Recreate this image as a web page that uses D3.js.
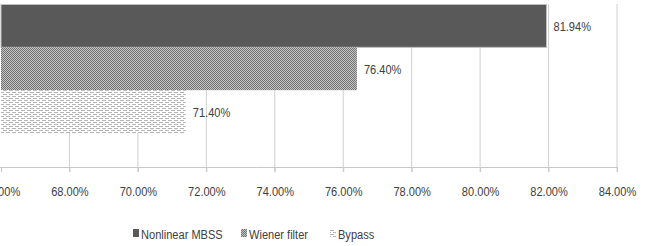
<!DOCTYPE html>
<html lang="en">
<head>
<meta charset="UTF-8">
<title>Nonlinear MBSS vs Wiener filter vs Bypass</title>
<script src="https://d3js.org/d3.v7.min.js"></script>
<style>
    body { margin: 0; background: #fff; }
    text { font-family: "Liberation Sans", Arial, sans-serif; fill: #404040; }
</style>
</head>
<body>
<svg width="645" height="246"></svg>
<script>
    const series = ["Nonlinear MBSS", "Wiener filter", "Bypass"];
    const values = [81.94, 76.40, 71.40];
    const xTicks = [66, 68, 70, 72, 74, 76, 78, 80, 82, 84];

    const svg = d3.select("svg");
    const defs = svg.append("defs");
    const squeeze = "scale(0.82,1)"; // narrow look like the original Calibri labels
    const fontSize = "13.5px";

    // wiener: fine checker pattern
    const pw = defs.append("pattern").attr("id", "pat-wiener")
        .attr("patternUnits", "userSpaceOnUse").attr("width", 2).attr("height", 2);
    pw.append("rect").attr("width", 2).attr("height", 2).attr("fill", "#c4c4c4");
    pw.append("rect").attr("width", 1).attr("height", 1).attr("fill", "#727272");
    pw.append("rect").attr("x", 1).attr("y", 1).attr("width", 1).attr("height", 1).attr("fill", "#727272");

    // bypass: rows of short dashes
    const pb = defs.append("pattern").attr("id", "pat-bypass")
        .attr("patternUnits", "userSpaceOnUse").attr("width", 6).attr("height", 4);
    pb.append("rect").attr("width", 6).attr("height", 4).attr("fill", "#fff");
    pb.append("rect").attr("x", 0).attr("y", 0).attr("width", 4).attr("height", 1).attr("fill", "#b4b4b4");
    pb.append("rect").attr("x", 3).attr("y", 2).attr("width", 4).attr("height", 1).attr("fill", "#b4b4b4");
    pb.append("rect").attr("x", -3).attr("y", 2).attr("width", 4).attr("height", 1).attr("fill", "#b4b4b4");

    const fills = ["#595959", "url(#pat-wiener)", "url(#pat-bypass)"];

    const x = d3.scaleLinear().domain([66, 84]).range([1, 617]);
    const y = d3.scaleBand().domain(series).range([4.5, 133]).paddingInner(0);
    const axisY = 167;

    const g = svg.append("g");

    // gridlines
    g.selectAll(".grid").data(xTicks.slice(1)).join("line")
        .attr("class", "grid")
        .attr("x1", d => x(d)).attr("x2", d => x(d))
        .attr("y1", 4).attr("y2", axisY + 5)
        .attr("stroke", "#d0d0d0").attr("stroke-width", 1);

    // axis
    const axis = d3.axisBottom(x).tickValues(xTicks)
        .tickFormat(d => d.toFixed(2) + "%").tickSize(5).tickPadding(14);
    const ax = g.append("g").attr("transform", `translate(0,${axisY})`).call(axis);
    ax.select(".domain").attr("stroke", "#c8c8c8").attr("d", `M0,0.5H${x(84)}`);
    ax.selectAll(".tick line").attr("stroke", "#c8c8c8");
    ax.selectAll(".tick text").style("font-size", fontSize).attr("fill", "#404040")
        .attr("transform", squeeze);

    // bars
    g.selectAll(".bar").data(values).join("rect")
        .attr("class", "bar")
        .attr("x", x(66))
        .attr("y", (d, i) => y(series[i]))
        .attr("width", d => x(d) - x(66))
        .attr("height", y.bandwidth())
        .attr("fill", (d, i) => fills[i])
        .attr("stroke", (d, i) => i === 0 ? "#bfbfbf" : "none")
        .attr("stroke-width", 1);

    // labels
    g.selectAll(".lbl").data(values).join("text")
        .attr("class", "lbl")
        .attr("transform", (d, i) => `translate(${x(d) + 7},${y(series[i]) + y.bandwidth() / 2 + 5}) ${squeeze}`)
        .style("font-size", fontSize)
        .text(d => d.toFixed(2) + "%");

    // legend
    const legendX = [133, 241, 330];
    const lg = svg.append("g").attr("transform", "translate(0,234)");
    const items = lg.selectAll("g").data(series).join("g")
        .attr("transform", (d, i) => `translate(${legendX[i]},0)`);
    items.append("rect").attr("x", 0).attr("y", -5).attr("width", 6).attr("height", 8)
        .attr("fill", (d, i) => fills[i]);
    items.append("text").attr("transform", `translate(8,5) ${squeeze}`)
        .style("font-size", fontSize).text(d => d);
</script>
</body>
</html>
